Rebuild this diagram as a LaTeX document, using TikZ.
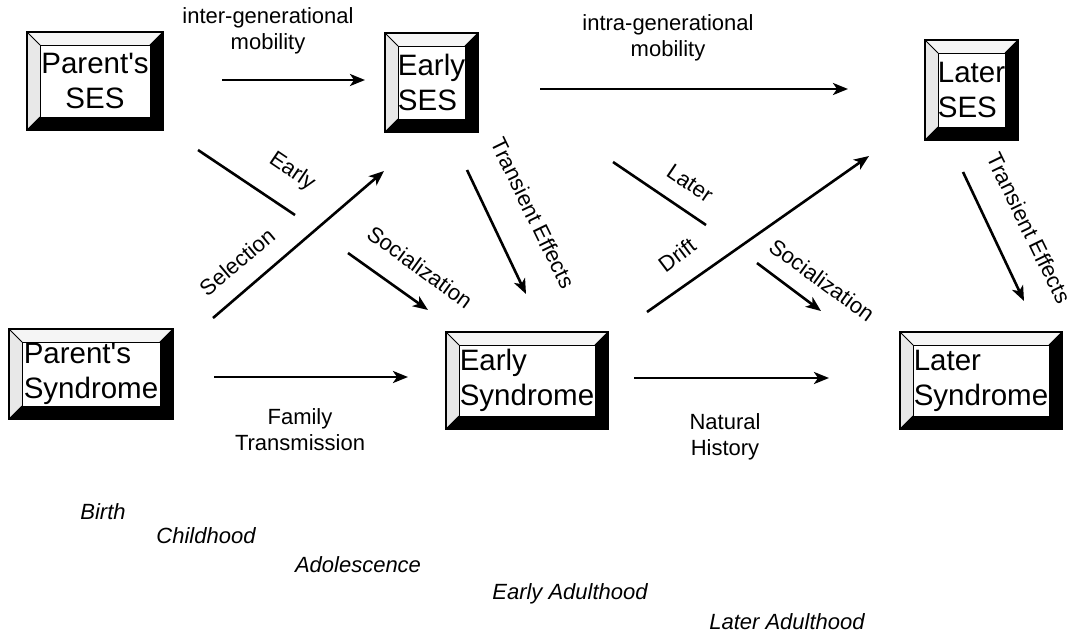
\documentclass[tikz,border=0pt]{standalone}
\usepackage{fontspec}
\setmainfont{Liberation Sans}[Ligatures=TeXOff]
\usetikzlibrary{arrows.meta,calc}
\newcommand\boxfont{\fontsize{29.5pt}{35pt}\selectfont}
\newcommand\lblfont{\fontsize{22pt}{26pt}\selectfont}
\begin{document}
\begin{tikzpicture}[x=1pt,y=-1pt,
  sbox/.style={draw=black, line width=1.6pt, inner sep=0pt, font=\boxfont,
    path picture={
      \coordinate (bbsw) at (path picture bounding box.south west);
      \coordinate (bbne) at (path picture bounding box.north east);
      \coordinate (bbse) at (path picture bounding box.south east);
      \coordinate (bbnw) at (path picture bounding box.north west);
      \coordinate (isw) at ($(bbsw)+(13pt,13pt)$);
      \coordinate (ine) at ($(bbne)+(-13pt,-13pt)$);
      \coordinate (ise) at ($(bbse)+(-13pt,13pt)$);
      \coordinate (inw) at ($(bbnw)+(13pt,-13pt)$);
      \fill[gray!8] (bbnw) -- (bbne) -- (ine) -- (inw) -- cycle;
      \fill[gray!18] (bbnw) -- (inw) -- (isw) -- (bbsw) -- cycle;
      \fill[black] (bbsw) -- (bbse) -- (bbne) -- (ine) -- (ise) -- (isw) -- cycle;
      \draw[line width=0.8pt] (isw) rectangle (ine);
      \draw[line width=0.8pt] (bbnw) -- (inw) (bbsw) -- (isw) (bbne) -- (ine);
    }},
  arr/.style={line width=2.6pt, -{Stealth[length=15pt,width=12pt,inset=4pt]}},
  bar/.style={line width=2.6pt},
  lbl/.style={font=\lblfont, inner sep=0pt, align=center},
  stage/.style={font=\lblfont\itshape, inner sep=0pt}
]
\useasboundingbox (0,0) rectangle (1082,641);

% boxes
\node[sbox, minimum width=136pt, minimum height=98pt, align=center] (pses) at (95,81) {Parent's\\SES};
\node[sbox, minimum width=93pt, minimum height=99pt, align=left] (eses) at (431.5,82.5) {Early\\SES};
\node[sbox, minimum width=93pt, minimum height=100pt, align=left] (lses) at (971.5,90) {Later\\SES};
\node[sbox, minimum width=164pt, minimum height=90pt, align=left] (psyn) at (91,374) {Parent's\\Syndrome};
\node[sbox, minimum width=162pt, minimum height=97pt, align=left] (esyn) at (527,380.5) {Early\\Syndrome};
\node[sbox, minimum width=162pt, minimum height=97pt, align=left] (lsyn) at (981,380.5) {Later\\Syndrome};

% connector end points
\coordinate (a1s) at (222,80);  \coordinate (a1e) at (365,80);
\coordinate (a2s) at (540,89);  \coordinate (a2e) at (848,89);
\coordinate (l1s) at (198,150); \coordinate (l1e) at (295,215);
\coordinate (a3s) at (213,318); \coordinate (a3e) at (384,171);
\coordinate (a4s) at (348,253); \coordinate (a4e) at (428,310);
\coordinate (a5s) at (467,170); \coordinate (a5e) at (526,294);
\coordinate (l2s) at (613,162); \coordinate (l2e) at (706,225);
\coordinate (a6s) at (647,312); \coordinate (a6e) at (869,156);
\coordinate (a7s) at (757,263); \coordinate (a7e) at (821,311);
\coordinate (a8s) at (963,172); \coordinate (a8e) at (1024,301);
\coordinate (a9s) at (214,377); \coordinate (a9e) at (408,377);
\coordinate (a10s) at (634,378); \coordinate (a10e) at (829,378);

\draw[arr] (a1s) -- (a1e);
\draw[arr] (a2s) -- (a2e);
\draw[bar] (l1s) -- (l1e);
\draw[arr] (a3s) -- (a3e);
\draw[arr] (a4s) -- (a4e);
\draw[arr] (a5s) -- (a5e);
\draw[bar] (l2s) -- (l2e);
\draw[arr] (a6s) -- (a6e);
\draw[arr] (a7s) -- (a7e);
\draw[arr] (a8s) -- (a8e);
\draw[arr] (a9s) -- (a9e);
\draw[arr] (a10s) -- (a10e);

% labels
\node[lbl] (tinter) at (268,31) {inter-generational\\mobility};
\node[lbl] (tintra) at (668,38) {intra-generational\\mobility};
\node[lbl, rotate=-34] (tearly) at (292,172) {Early};
\node[lbl, rotate=40] (tsel) at (237,262) {Selection};
\node[lbl, rotate=-36] (tsoc1) at (420,267) {Socialization};
\node[lbl, rotate=-64] (ttr1) at (533,213) {Transient Effects};
\node[lbl, rotate=-34] (tlater) at (690,183) {Later};
\node[lbl, rotate=37] (tdrift) at (677,255) {Drift};
\node[lbl, rotate=-36] (tsoc2) at (822,280) {Socialization};
\node[lbl, rotate=-64] (ttr2) at (1029,228) {Transient Effects};
\node[lbl] (tfam) at (300,430) {Family\\Transmission};
\node[lbl] (tnat) at (725,437) {Natural\\History};

% stages
\node[stage] (sbirth) at (103,512) {Birth};
\node[stage] (schild) at (206,536) {Childhood};
\node[stage] (sadol) at (358,565) {Adolescence};
\node[stage] (searly) at (570,594) {Early Adulthood};
\node[stage] (slater) at (787,622) {Later Adulthood};
\end{tikzpicture}
\end{document}
